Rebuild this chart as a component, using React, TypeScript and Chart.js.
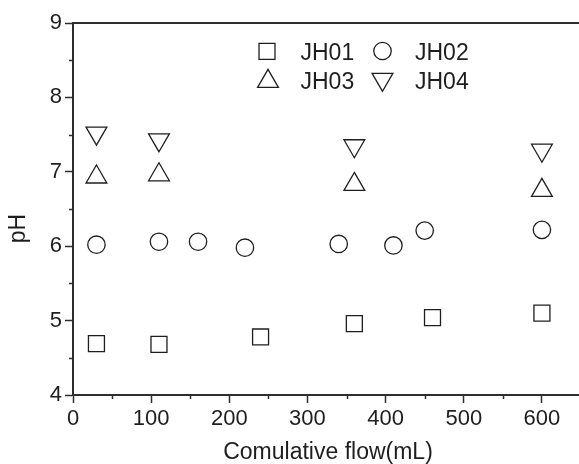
import React, { useEffect, useRef } from 'react';
import { Chart, registerables } from 'chart.js';
import { drawPoint } from 'chart.js/helpers';

Chart.register(...registerables);

// ---- data ----
const jh01X = [30, 110, 240, 360, 460, 600];
const jh01Y = [4.69, 4.68, 4.78, 4.96, 5.04, 5.1];
const jh02X = [30, 110, 160, 220, 340, 410, 450, 600];
const jh02Y = [6.02, 6.06, 6.06, 5.98, 6.03, 6.01, 6.21, 6.22];
const jh03X = [30, 110, 360, 600];
const jh03Y = [6.93, 6.96, 6.83, 6.75];
const jh04X = [30, 110, 360, 600];
const jh04Y = [7.52, 7.43, 7.35, 7.29];

const seriesNames = ['JH01', 'JH02', 'JH03', 'JH04'];
const xTicks = [0, 100, 200, 300, 400, 500, 600];
const yTicks = [4, 5, 6, 7, 8, 9];
const xMinorTicks = [50, 150, 250, 350, 450, 550, 650];
const yMinorTicks = [4.5, 5.5, 6.5, 7.5, 8.5];
const xTitle = 'Comulative flow(mL)';
const yTitle = 'pH';

const FONT = '"Liberation Sans", Arial, Helvetica, sans-serif';
const INK = '#1e1e1e';
const AXIS = '#2e2e2e';

const toPts = (xs: number[], ys: number[]) => xs.map((x, i) => ({ x, y: ys[i] }));

const markers = [
  { pointStyle: 'rect', radius: 11.3, rotation: 0 },
  { pointStyle: 'circle', radius: 8.7, rotation: 0 },
  { pointStyle: 'triangle', radius: 12, rotation: 0 },
  { pointStyle: 'triangle', radius: 12, rotation: 180 },
];

const decorPlugin = {
  id: 'decor',
  afterDraw(chart: any) {
    const ctx = chart.ctx;
    const { left, right, top, bottom } = chart.chartArea;
    const xs = chart.scales.x;
    const ys = chart.scales.y;
    ctx.save();
    // top frame line
    ctx.strokeStyle = AXIS;
    ctx.lineWidth = 2;
    ctx.beginPath();
    ctx.moveTo(left - 1, top);
    ctx.lineTo(right, top);
    ctx.stroke();
    // minor ticks
    ctx.lineWidth = 1.5;
    ctx.beginPath();
    xMinorTicks.forEach((v) => {
      const px = Math.round(xs.getPixelForValue(v)) + 0.5;
      ctx.moveTo(px, bottom);
      ctx.lineTo(px, bottom + 4);
    });
    yMinorTicks.forEach((v) => {
      const py = Math.round(ys.getPixelForValue(v)) + 0.5;
      ctx.moveTo(left, py);
      ctx.lineTo(left - 4, py);
    });
    ctx.stroke();

    // axis titles
    ctx.fillStyle = INK;
    ctx.font = `23px ${FONT}`;
    ctx.textAlign = 'center';
    ctx.textBaseline = 'alphabetic';
    ctx.fillText(xTitle, (left + right) / 2 + 1, 459);
    ctx.save();
    ctx.translate(25, 228.5);
    ctx.rotate(-Math.PI / 2);
    ctx.fillText(yTitle, 0, 0);
    ctx.restore();

    // legend (2 x 2)
    const legendItems = [
      { m: markers[0], mx: 267, my: 51.3, tx: 300.5, ty: 60 },
      { m: markers[1], mx: 382.5, my: 51, tx: 415, ty: 60 },
      { m: markers[2], mx: 268, my: 81.3, tx: 300.5, ty: 89.3 },
      { m: markers[3], mx: 382.5, my: 79.3, tx: 415, ty: 89.3 },
    ];
    ctx.textAlign = 'left';
    legendItems.forEach((it, i) => {
      ctx.strokeStyle = INK;
      ctx.fillStyle = 'rgba(0,0,0,0)';
      ctx.lineWidth = 1.3;
      drawPoint(ctx, { pointStyle: it.m.pointStyle, radius: it.m.radius, rotation: it.m.rotation, borderWidth: 1.3 } as any, it.mx, it.my);
      ctx.fillStyle = INK;
      ctx.fillText(seriesNames[i], it.tx, it.ty);
    });
    ctx.restore();
  },
};

export default function App() {
  const ref = useRef<HTMLCanvasElement | null>(null);
  useEffect(() => {
    if (!ref.current) return;
    const allX = [jh01X, jh02X, jh03X, jh04X];
    const allY = [jh01Y, jh02Y, jh03Y, jh04Y];
    const chart = new Chart(ref.current, {
      type: 'scatter',
      data: {
        datasets: seriesNames.map((name, i) => ({
          label: name,
          data: toPts(allX[i], allY[i]),
          pointStyle: markers[i].pointStyle as any,
          pointRadius: markers[i].radius,
          pointRotation: markers[i].rotation,
          pointBorderWidth: 1.3,
          pointBorderColor: INK,
          pointBackgroundColor: 'rgba(0,0,0,0)',
          showLine: false,
        })),
      },
      options: {
        animation: false,
        responsive: false,
        events: [],
        layout: { autoPadding: false, padding: { top: 23, left: 0, right: 1, bottom: 0 } },
        plugins: { legend: { display: false }, tooltip: { enabled: false } },
        scales: {
          x: {
            type: 'linear',
            min: 0,
            max: 650,
            afterBuildTicks: (s: any) => {
              s.ticks = xTicks.map((v) => ({ value: v }));
            },
            afterFit: (s: any) => {
              s.height = 69;
              s.paddingLeft = 0;
              s.paddingRight = 0;
            },
            grid: { display: true, drawOnChartArea: false, drawTicks: true, tickLength: 8, tickColor: AXIS, tickWidth: 1.5 },
            border: { display: true, color: AXIS, width: 2 },
            ticks: { color: INK, font: { family: FONT, size: 22 }, padding: 3, maxRotation: 0, autoSkip: false },
            title: { display: false },
          },
          y: {
            type: 'linear',
            min: 4,
            max: 9,
            afterBuildTicks: (s: any) => {
              s.ticks = yTicks.map((v) => ({ value: v }));
            },
            afterFit: (s: any) => {
              s.width = 73;
              s.paddingTop = 0;
              s.paddingBottom = 0;
            },
            grid: { display: true, drawOnChartArea: false, drawTicks: true, tickLength: 8, tickColor: AXIS, tickWidth: 1.5 },
            border: { display: true, color: AXIS, width: 2 },
            ticks: { color: INK, font: { family: FONT, size: 22 }, padding: 3, autoSkip: false },
            title: { display: false },
          },
        },
      },
      plugins: [decorPlugin],
    });
    return () => chart.destroy();
  }, []);

  return (
    <div style={{ position: 'fixed', left: 0, top: 0, width: 579, height: 464, overflow: 'hidden', background: '#fff' }}>
      <canvas ref={ref} width={582} height={464} style={{ display: 'block', width: 582, height: 464 }} />
    </div>
  );
}
